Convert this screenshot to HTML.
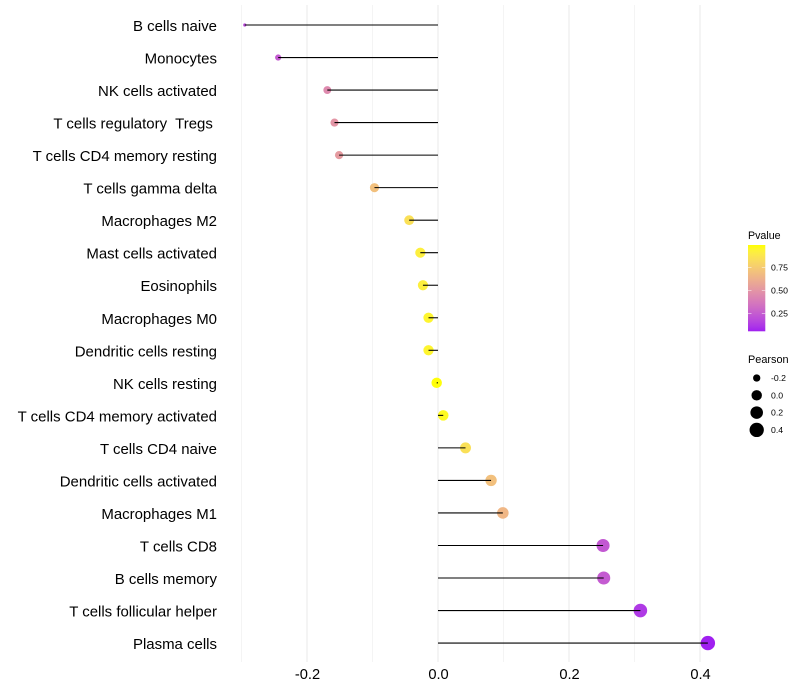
<!DOCTYPE html>
<html>
<head>
<meta charset="utf-8">
<title>Immune cell correlation lollipop chart</title>
<style>
html,body{margin:0;padding:0;background:#fff;}
svg{display:block;font-family:"Liberation Sans",sans-serif;}
text{white-space:pre;}
</style>
</head>
<body>
<svg id="chart" width="800" height="700" viewBox="0 0 800 700" xmlns="http://www.w3.org/2000/svg"></svg>
<script>
const categories = ["B cells naive","Monocytes","NK cells activated","T cells regulatory  Tregs ","T cells CD4 memory resting","T cells gamma delta","Macrophages M2","Mast cells activated","Eosinophils","Macrophages M0","Dendritic cells resting","NK cells resting","T cells CD4 memory activated","T cells CD4 naive","Dendritic cells activated","Macrophages M1","T cells CD8","B cells memory","T cells follicular helper","Plasma cells"];
const pearson = [-0.295,-0.244,-0.169,-0.158,-0.151,-0.097,-0.044,-0.027,-0.023,-0.0145,-0.0145,-0.002,0.008,0.042,0.081,0.099,0.252,0.253,0.309,0.412];
const pvalue = [0.19,0.25,0.45,0.5,0.53,0.7,0.85,0.92,0.92,0.95,0.95,0.99,0.97,0.85,0.7,0.66,0.24,0.25,0.13,0.05];
const majorTicks = [-0.2,0,0.2,0.4];
const majorLabels = ["-0.2","0.0","0.2","0.4"];
const minorTicks = [-0.3,-0.1,0.1,0.3];
const pTicks = [0.75,0.5,0.25];
const pTickLabels = ["0.75","0.50","0.25"];
const sizeBreaks = [-0.2,0,0.2,0.4];
const sizeLabels = ["-0.2","0.0","0.2","0.4"];
const pDomain = [0.06,0.995];
const pearsonDomain = [-0.295,0.412];

const svg = document.getElementById('chart');
const NS = 'http://www.w3.org/2000/svg';
function add(parent, tag, attrs, text){
  const e = document.createElementNS(NS, tag);
  for (const k in attrs) e.setAttribute(k, attrs[k]);
  if (text !== undefined) e.textContent = text;
  parent.appendChild(e);
  return e;
}
const xScale = v => 438 + v * 655;
const yScale = i => 25 + i * 32.53;
const rScale = v => 1.6 + 5.6 * Math.sqrt(Math.max(0, (v - pearsonDomain[0]) / (pearsonDomain[1] - pearsonDomain[0])));
const pBarY = p => 290.5 - (p - 0.5) * 92;

function toLab(rgb){
  const f = c => { c /= 255; return c <= 0.04045 ? c / 12.92 : Math.pow((c + 0.055) / 1.055, 2.4); };
  const [r, g, b] = rgb.map(f);
  const X = (0.4124 * r + 0.3576 * g + 0.1805 * b) / 0.95047;
  const Y = 0.2126 * r + 0.7152 * g + 0.0722 * b;
  const Z = (0.0193 * r + 0.1192 * g + 0.9505 * b) / 1.08883;
  const h = t => t > 0.008856 ? Math.cbrt(t) : 7.787 * t + 16 / 116;
  return [116 * h(Y) - 16, 500 * (h(X) - h(Y)), 200 * (h(Y) - h(Z))];
}
function fromLab(l){
  const fy = (l[0] + 16) / 116, fx = l[1] / 500 + fy, fz = fy - l[2] / 200;
  const h = t => t * t * t > 0.008856 ? t * t * t : (t - 16 / 116) / 7.787;
  const X = h(fx) * 0.95047, Y = h(fy), Z = h(fz) * 1.08883;
  const g = c => { c = Math.min(1, Math.max(0, c)); return Math.round(255 * (c <= 0.0031308 ? 12.92 * c : 1.055 * Math.pow(c, 1 / 2.4) - 0.055)); };
  return 'rgb(' + g(3.2406 * X - 1.5372 * Y - 0.4986 * Z) + ',' + g(-0.9689 * X + 1.8758 * Y + 0.0415 * Z) + ',' + g(0.0557 * X - 0.204 * Y + 1.057 * Z) + ')';
}
const lowLab = toLab([160, 32, 240]);
const highLab = toLab([255, 255, 0]);
function colorScale(p){
  const t = Math.min(1, Math.max(0, (p - pDomain[0]) / (pDomain[1] - pDomain[0])));
  return fromLab(lowLab.map((v, i) => v + (highLab[i] - v) * t));
}

/* gridlines */
const grid = add(svg, 'g', {});


minorTicks.forEach(v => {
  const l = add(grid, 'line', {x1: xScale(v), x2: xScale(v), y1: 5, y2: 662, stroke: '#ebebeb', 'stroke-width': 0.55});
  
  
});
majorTicks.forEach(v => {
  const l = add(grid, 'line', {x1: xScale(v), x2: xScale(v), y1: 5, y2: 662, stroke: '#ebebeb', 'stroke-width': 1.07});
  
  
});

/* points, then segments on top */
categories.forEach((c, i) => {
  const dot = add(svg, 'circle', {cx: xScale(pearson[i]), cy: yScale(i), r: rScale(pearson[i]), fill: colorScale(pvalue[i])});
  
  
});
categories.forEach((c, i) => {
  const seg = add(svg, 'line', {x1: xScale(0), x2: xScale(pearson[i]), y1: yScale(i), y2: yScale(i), stroke: '#000', 'stroke-width': 1.07});
  
  
});

/* y labels */
categories.forEach((c, i) => {
  const t = add(svg, 'text', {x: 217, y: yScale(i) + 6, 'text-anchor': 'end', 'font-size': 14.97, fill: '#000'}, c);
  
  
});

/* x labels */
majorTicks.forEach((v, i) => {
  const t = add(svg, 'text', {x: xScale(v) + 0.5, y: 679, 'text-anchor': 'middle', 'font-size': 14.67, fill: '#000'}, majorLabels[i]);
  
  
});

/* colour legend */
const pTitle = add(svg, 'text', {x: 748, y: 239, 'font-size': 10.67, fill: '#000'}, 'Pvalue');


const defs = add(svg, 'defs', {});
const grad = add(defs, 'linearGradient', {id: 'pgrad', x1: 0, x2: 0, y1: 1, y2: 0});
for (let k = 0; k <= 20; k++) add(grad, 'stop', {offset: k / 20, 'stop-color': colorScale(pDomain[0] + (pDomain[1] - pDomain[0]) * k / 20)});
const bar = add(svg, 'rect', {x: 748, y: 245, width: 17.3, height: 86.3, fill: 'url(#pgrad)'});


pTicks.forEach((p, i) => {
  const y = pBarY(p);
  const a = add(svg, 'line', {x1: 748, x2: 751.5, y1: y, y2: y, stroke: '#fff', 'stroke-width': 0.5});
  
  
  const b = add(svg, 'line', {x1: 761.8, x2: 765.3, y1: y, y2: y, stroke: '#fff', 'stroke-width': 0.5});
  
  
  const t = add(svg, 'text', {x: 771, y: y + 3, 'font-size': 8.7, fill: '#000'}, pTickLabels[i]);
  
  
});

/* size legend */
const sTitle = add(svg, 'text', {x: 748, y: 363, 'font-size': 10.9, fill: '#000'}, 'Pearson');


sizeBreaks.forEach((v, i) => {
  const y = 378 + i * 17.3;
  const c = add(svg, 'circle', {cx: 756.7, cy: y, r: rScale(v), fill: '#000'});
  
  
  const t = add(svg, 'text', {x: 771, y: y + 3, 'font-size': 8.7, fill: '#000'}, sizeLabels[i]);
  
  
});
</script>
</body>
</html>
